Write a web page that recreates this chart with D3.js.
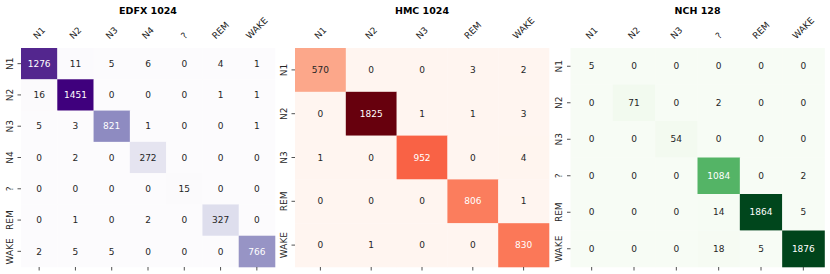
<!DOCTYPE html>
<html><head><meta charset="utf-8">
<script src="https://cdn.jsdelivr.net/npm/d3@7"></script>
<style>body{margin:0;background:#fff}svg{display:block}text{font-family:"DejaVu Sans",sans-serif}</style>
</head><body>
<svg id="chart" width="830" height="274"></svg>
<script>
// ---- data ----
const edfxTitle = "EDFX 1024";
const edfxLabels = ["N1","N2","N3","N4","?","REM","WAKE"];
const edfxValues = [
  [1276, 11, 5, 6, 0, 4, 1],
  [16, 1451, 0, 0, 0, 1, 1],
  [5, 3, 821, 1, 0, 0, 1],
  [0, 2, 0, 272, 0, 0, 0],
  [0, 0, 0, 0, 15, 0, 0],
  [0, 1, 0, 2, 0, 327, 0],
  [2, 5, 5, 0, 0, 0, 766]
];
const hmcTitle = "HMC 1024";
const hmcLabels = ["N1","N2","N3","REM","WAKE"];
const hmcValues = [
  [570, 0, 0, 3, 2],
  [0, 1825, 1, 1, 3],
  [1, 0, 952, 0, 4],
  [0, 0, 0, 806, 1],
  [0, 1, 0, 0, 830]
];
const nchTitle = "NCH 128";
const nchLabels = ["N1","N2","N3","?","REM","WAKE"];
const nchValues = [
  [5, 0, 0, 0, 0, 0],
  [0, 71, 0, 2, 0, 0],
  [0, 0, 54, 0, 0, 0],
  [0, 0, 0, 1084, 0, 2],
  [0, 0, 0, 14, 1864, 5],
  [0, 0, 0, 18, 5, 1876]
];

const panels = [
  {title: edfxTitle, labels: edfxLabels, values: edfxValues, scheme: d3.schemePurples[9], x0: 21},
  {title: hmcTitle, labels: hmcLabels, values: hmcValues, scheme: d3.schemeReds[9], x0: 295},
  {title: nchTitle, labels: nchLabels, values: nchValues, scheme: d3.schemeGreens[9], x0: 570.5}
];

const svg = d3.select("#chart");
const W = 254, topY = 48, H = 219;
const dark = "#262626";
const fs = 9;

function lum(c){
  const r = d3.rgb(c);
  const f = v => { v/=255; return v <= 0.03928 ? v/12.92 : Math.pow((v+0.055)/1.055, 2.4); };
  return 0.2126*f(r.r)+0.7152*f(r.g)+0.0722*f(r.b);
}

panels.forEach(p => {
  const g = svg.append("g");
  const x = d3.scaleBand().domain(p.labels).range([p.x0, p.x0 + W]);
  const y = d3.scaleBand().domain(p.labels).range([topY, topY + H]);
  const vmax = d3.max(p.values.flat());
  const color = d3.scaleLinear()
    .domain(d3.range(9).map(i => i / 8 * vmax))
    .range(p.scheme)
    .interpolate(d3.interpolateRgb);

  const cells = [];
  p.values.forEach((row, i) => row.forEach((v, j) => cells.push({r: p.labels[i], c: p.labels[j], v})));

  g.selectAll("rect").data(cells).join("rect")
    .attr("x", d => x(d.c)).attr("y", d => y(d.r))
    .attr("width", x.bandwidth() + 0.3).attr("height", y.bandwidth() + 0.3)
    .attr("fill", d => color(d.v));

  g.selectAll("text.val").data(cells).join("text").attr("class","val")
    .attr("x", d => x(d.c) + x.bandwidth()/2)
    .attr("y", d => y(d.r) + y.bandwidth()/2)
    .attr("dy", "0.35em")
    .attr("text-anchor", "middle")
    .attr("font-size", fs)
    .attr("fill", d => lum(color(d.v)) > 0.408 ? dark : "#fff")
    .text(d => d.v);

  g.append("text").attr("x", p.x0 + W/2).attr("y", 14)
    .attr("text-anchor", "middle").attr("font-size", 9.5).attr("font-weight", "bold")
    .attr("fill", "#000").text(p.title);

  g.selectAll("line.xt").data(p.labels).join("line").attr("class","xt")
    .attr("x1", d => x(d) + x.bandwidth()/2).attr("x2", d => x(d) + x.bandwidth()/2)
    .attr("y1", topY + H).attr("y2", topY + H + 3.5)
    .attr("stroke", dark).attr("stroke-width", 0.8);
  g.selectAll("line.yt").data(p.labels).join("line").attr("class","yt")
    .attr("y1", d => y(d) + y.bandwidth()/2).attr("y2", d => y(d) + y.bandwidth()/2)
    .attr("x1", p.x0 - 3.5).attr("x2", p.x0)
    .attr("stroke", dark).attr("stroke-width", 0.8);

  g.selectAll("text.yl").data(p.labels).join("text").attr("class","yl")
    .attr("transform", d => `translate(${p.x0 - 8.5},${y(d) + y.bandwidth()/2}) rotate(-90)`)
    .attr("text-anchor", "middle").attr("font-size", fs).attr("fill", dark)
    .text(d => d);

  const xl = g.selectAll("text.xl").data(p.labels).join("text").attr("class","xl")
    .attr("text-anchor", "middle").attr("font-size", fs).attr("fill", dark)
    .attr("dy", "0.35em")
    .text(d => d);
  xl.each(function(d){
    const w = this.getComputedTextLength();
    const h = fs * 1.164;
    const s = (w + h) / Math.SQRT2;
    const cx = x(d) + x.bandwidth()/2;
    const cy = 41 - s/2;
    d3.select(this).attr("transform", `translate(${cx},${cy}) rotate(-45)`);
  });
});
</script>
</body></html>
